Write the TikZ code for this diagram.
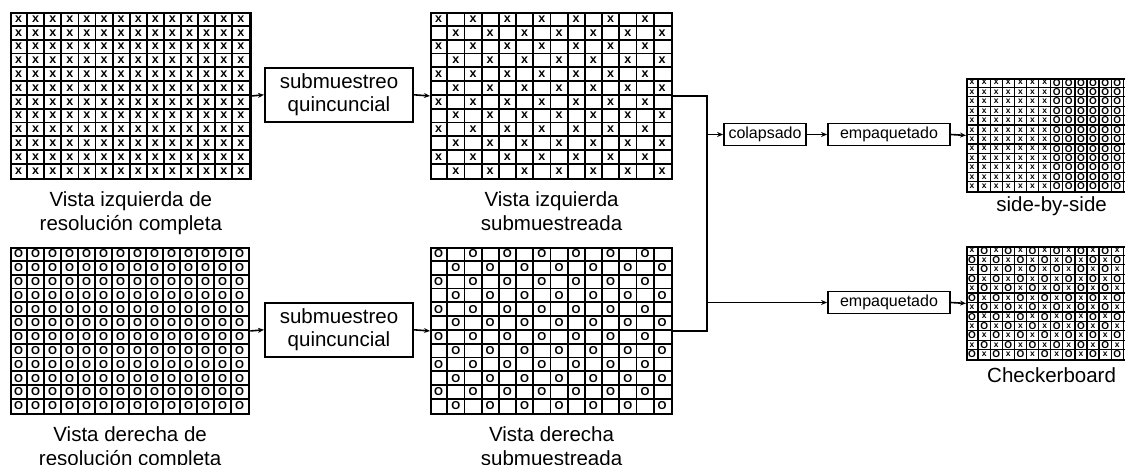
\documentclass[tikz,border=0pt]{standalone}
\usepackage{fontspec}
\setmainfont{Liberation Sans}
\usetikzlibrary{arrows.meta,positioning}

% marcas de las celdas
\newcommand{\cx}[1]{\fontsize{#1}{#1}\selectfont\bfseries x}
\newcommand{\co}[1]{\fontsize{#1}{#1}\selectfont\bfseries O}
\newcommand{\siPar}[2]{\ifodd\numexpr\c+\f\relax#2\else#1\fi}

% rejilla de 14x12 celdas: nombre, esquina, ancho y alto de celda, grosor, marca
\newcommand{\rejilla}[6]{%
  \begin{scope}[shift={(#2)}]
    \foreach \c in {0,...,13}
      \foreach \f in {0,...,11}
        \node[inner sep=0pt] at ({(\c+0.5)*#3},{(\f+0.5)*#4}) {#6};
    \foreach \c in {1,...,13}
      \draw[line width=#5] ({\c*#3},0) -- ({\c*#3},{12*#4});
    \foreach \f in {1,...,11}
      \draw[line width=#5] (0,{\f*#4}) -- ({14*#3},{\f*#4});
    \node[marco, line width=#5+0.5pt, minimum width={14*#3pt}, minimum height={12*#4pt}] (#1) at (0,0) {};
  \end{scope}
}

\tikzset{%
  marco/.style={draw, inner sep=0pt, anchor=north west},
  caja/.style={draw, line width=2pt, align=center, inner sep=0pt, font=\fontsize{20.5}{23}\selectfont},
  cajita/.style={draw, line width=1.8pt, inner sep=0pt, minimum height=22pt, font=\fontsize{16}{19}\selectfont},
  rotulo/.style={align=center, inner sep=0pt, font=\fontsize{20.5}{24}\selectfont},
  linea/.style={draw, line width=1.6pt},
  flecha/.style={linea, -{Stealth[length=6pt,width=5pt]}},
}

\begin{document}
\begin{tikzpicture}[x=1pt, y=-1pt]
\useasboundingbox (0,0) rectangle (1125,464);
\begin{scope}
\clip (0,0) rectangle (1125,464);

% vistas de entrada y submuestreadas
\rejilla{izqcompleta}{10,12}{17.1}{13.8}{1.8pt}{\cx{12.5}}
\rejilla{izqsub}{430,12}{17.2}{13.8}{1.8pt}{\siPar{\cx{12.5}}{}}
\rejilla{dercompleta}{10,247}{17}{13.8}{1.8pt}{\co{11.5}}
\rejilla{dersub}{430,247}{17.2}{13.8}{1.8pt}{\siPar{\co{11.5}}{}}

% formatos empaquetados
\rejilla{sbs}{966,78}{12.1}{9.42}{1.3pt}{\ifnum\c<7 \cx{8.5}\else\co{10}\fi}
\rejilla{cb}{966,246}{12.1}{9.42}{1.3pt}{\siPar{\cx{8.5}}{\co{10}}}

\node[rotulo, below=12pt of izqcompleta] (t1) {Vista izquierda de\\resolución completa};
\node[rotulo, below=12pt of izqsub] (t2) {Vista izquierda\\submuestreada};
\node[rotulo, below=12pt of dercompleta] (t3) {Vista derecha de\\resolución completa};
\node[rotulo, below=12pt of dersub] (t4) {Vista derecha\\submuestreada};
\node[rotulo, below=4pt of sbs] (t5) {side-by-side};
\node[rotulo, below=7pt of cb] (t6) {Checkerboard};

% bloques
\node[caja, minimum width=148pt, minimum height=54pt] (quin1) at (339,94.8) {submuestreo\\quincuncial};
\node[caja, minimum width=148pt, minimum height=54pt] (quin2) at (339,329.8) {submuestreo\\quincuncial};
\node[cajita, minimum width=82pt] (colap) at (765,134.5) {colapsado};
\node[cajita, minimum width=122pt] (emp1) at (889,134.5) {empaquetado};
\node[cajita, minimum width=122pt] (emp2) at (889,302.5) {empaquetado};

\draw[flecha] (izqcompleta.east) -- (quin1.west);
\draw[flecha] (quin1.east) -- (izqsub.west);
\draw[flecha] (dercompleta.east) -- (quin2.west);
\draw[flecha] (quin2.east) -- (dersub.west);

\coordinate (bus) at (707,134.5);
\draw[linea] (izqsub.east) -| (bus) |- (dersub.east);
\draw[flecha] (bus) -- (colap.west);
\draw[flecha] (colap.east) -- (emp1.west);
\draw[flecha] (emp1.east) -- (sbs.west);
\draw[flecha] (bus |- emp2.west) -- (emp2.west);
\draw[flecha] (emp2.east) -- (cb.west);
\end{scope}
\end{tikzpicture}
\end{document}
